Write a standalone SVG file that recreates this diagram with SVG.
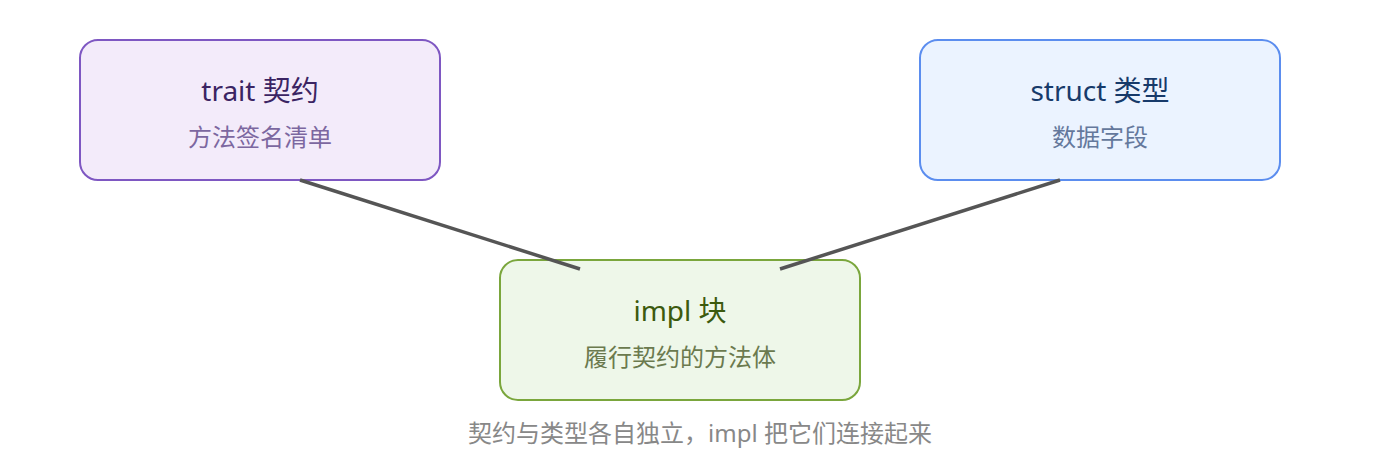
<svg xmlns="http://www.w3.org/2000/svg" width="1400" height="460" viewBox="0 0 1400 460">
<style>
text{font-family:"Noto Sans","Noto Sans CJK SC",sans-serif;text-anchor:middle;dominant-baseline:central}
.t{font-size:28px}
.s{font-size:24px}
.cap{font-size:24px;fill:#888}
.edge{stroke:#555;stroke-width:3.5;fill:none}
</style>
<rect width="1400" height="460" fill="#fff"/>
<g id="trait">
<rect x="80" y="40" width="360" height="140" rx="18" fill="#f3ebfa" stroke="#7e57c2" stroke-width="2"/>
<text class="t" x="260" y="90" fill="#3b2463">trait 契约</text>
<text class="s" x="260" y="136" fill="#7c67a0">方法签名清单</text>
</g>
<g id="struct">
<rect x="920" y="40" width="360" height="140" rx="18" fill="#ebf3ff" stroke="#5b8def" stroke-width="2"/>
<text class="t" x="1100" y="90" fill="#173a6a">struct 类型</text>
<text class="s" x="1100" y="136" fill="#64789c">数据字段</text>
</g>
<g id="impl">
<rect x="500" y="260" width="360" height="140" rx="18" fill="#eef7e9" stroke="#7aa63c" stroke-width="2"/>
<text class="t" x="680" y="310" fill="#3c5a0e">impl 块</text>
<text class="s" x="680" y="356" fill="#6b7a4e">履行契约的方法体</text>
</g>
<g id="connectors">
<line class="edge" x1="300" y1="180" x2="580" y2="269"/>
<line class="edge" x1="1060" y1="180" x2="780" y2="269"/>
</g>
<text class="cap" x="700" y="432">契约与类型各自独立，impl 把它们连接起来</text>
</svg>
